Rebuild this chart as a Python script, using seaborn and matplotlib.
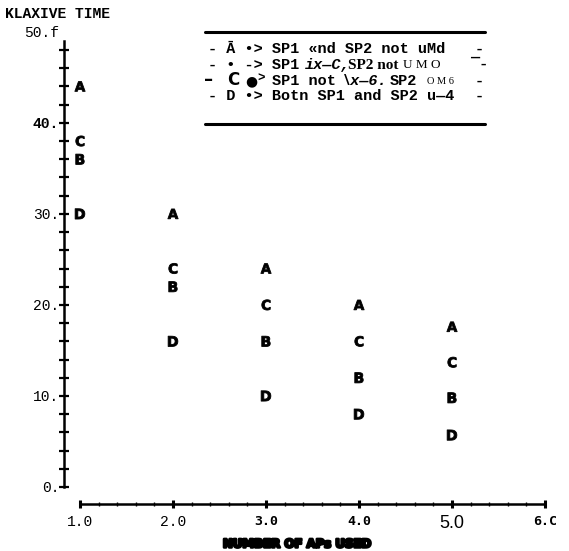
import matplotlib
matplotlib.use("Agg")
import numpy as np
import pandas as pd
import seaborn as sns
import matplotlib.pyplot as plt
import matplotlib.patheffects as pe
from matplotlib.lines import Line2D
from matplotlib.ticker import FixedLocator, MultipleLocator

# ---- data ----
aps_used = [1.0, 2.0, 3.0, 4.0, 5.0]
time_a = [44, 30, 24, 20, 17.6]   # SP1 and SP2 not used
time_b = [36, 22, 16, 12, 9.8]    # SP1 used, SP2 not used
time_c = [38, 24, 20, 16, 13.7]   # SP1 not used, SP2 used
time_d = [30, 16, 10, 8, 5.7]     # both SP1 and SP2 used
x_ticks = [1, 2, 3, 4, 5, 6]
x_tick_labels = ["1.0", "2.0", "3.0", "4.0", "5.0", "6.C"]
y_ticks = [0, 10, 20, 30, 40, 50]
y_tick_labels = ["0.", "10.", "20.", "30.", "40.", "50.f"]
title_text = "KLAXIVE TIME"
xlabel_text = "NUMBER OF APs USED"

df = pd.DataFrame({
    "aps": aps_used * 4,
    "time": time_a + time_b + time_c + time_d,
    "case": ["A"] * 5 + ["B"] * 5 + ["C"] * 5 + ["D"] * 5,
})

sns.set_theme(style="white")
plt.rcParams["font.family"] = ["Liberation Mono", "DejaVu Sans Mono", "DejaVu Sans"]

W, H = 569, 551
fig = plt.figure(figsize=(W / 100, H / 100), dpi=100)
ax = fig.add_axes([64 / W, 47 / H, 484 / W, 474 / H])

markers = {k: r"$\mathbf{%s}$" % k for k in ["A", "B", "C", "D"]}
sns.scatterplot(data=df, x="aps", y="time", style="case", markers=markers,
                color="black", s=55, linewidth=0.6, edgecolor="black",
                legend=False, ax=ax)

ax.set_xlim(0.828, 6.032)
ax.set_ylim(-1.87, 50.2)
ax.set_xlabel("")
ax.set_ylabel("")

for s in ["top", "right"]:
    ax.spines[s].set_visible(False)
ax.spines["left"].set_bounds(0, 49)
ax.spines["bottom"].set_bounds(1, 6)
for s in ["left", "bottom"]:
    ax.spines[s].set_linewidth(1.8)
    ax.spines[s].set_color("black")

ax.yaxis.set_major_locator(FixedLocator(y_ticks))
ax.yaxis.set_minor_locator(MultipleLocator(2))
ax.set_yticklabels(y_tick_labels)
ax.xaxis.set_major_locator(FixedLocator(x_ticks))
ax.xaxis.set_minor_locator(MultipleLocator(0.2))
ax.set_xticklabels(x_tick_labels)

ax.tick_params(axis="y", which="both", direction="inout", length=7, width=1.6,
               color="black", left=True, pad=0, labelsize=10.5, labelcolor="black")
ax.tick_params(axis="x", which="major", direction="inout", length=6, width=2.2,
               color="black", bottom=True, pad=5, labelsize=10.5, labelcolor="black")
ax.tick_params(axis="x", which="minor", direction="inout", length=2.5, width=1,
               color="black", bottom=True)
ax.yaxis.get_major_ticks()[-1].tick1line.set_visible(False)

for lbl in ax.get_yticklabels():
    if lbl.get_text() == "40.":
        lbl.set_fontweight("bold")

for lbl in ax.get_xticklabels():
    t = lbl.get_text()
    if t in ("3.0", "4.0", "6.C"):
        lbl.set_fontweight("bold")
        lbl.set_family(["DejaVu Sans Mono"])
        lbl.set_fontsize(9.5)
    elif t == "5.0":
        lbl.set_family(["Liberation Sans"])
        lbl.set_fontsize(13)

def put(x, y, s, **kw):
    kw.setdefault("va", "center")
    kw.setdefault("ha", "left")
    kw.setdefault("color", "black")
    return fig.text(x / W, 1 - y / H, s, **kw)

# title and x label
put(5, 14, title_text, fontsize=10.5, fontweight="bold")
put(297, 544, xlabel_text, ha="center", fontsize=8.5, fontweight="bold",
    family=["DejaVu Sans"],
    path_effects=[pe.withStroke(linewidth=1.8, foreground="black")])

# legend box (rules + text)
for yy in (32, 124):
    fig.add_artist(Line2D([205 / W, 485 / W], [1 - yy / H, 1 - yy / H],
                          color="black", lw=2.2, transform=fig.transFigure))

mono = dict(fontsize=11, fontweight="bold")
y1, y2, y3, y4 = 49, 65, 81, 96
put(208, y1, "- Ā •> SP1 «nd SP2 not uMd", **mono)
put(475, y1, "-", **mono)

put(208, y2, "- • -> SP1", **mono)
put(305, y2, "ix—C,", fontsize=11, style="italic", fontweight="bold")
put(348, y2, "SP2 not", fontsize=11, fontweight="bold", family=["Liberation Serif"])
put(403, y2, "U M O", fontsize=9.5, family=["Liberation Serif"])
put(470, y2 - 1, "¯-", **mono)

put(204, y3 - 1, "–", fontsize=13, fontweight="bold", family=["DejaVu Sans"])
put(227, y3 - 1, "C", fontsize=12, fontweight="bold", family=["DejaVu Sans"])
put(245, y3, "●", fontsize=10, family=["DejaVu Sans"])
put(257, y3 - 2, ">", fontsize=9, fontweight="bold")
put(272, y3, "SP1 not", **mono)
put(342, y3, "\\x—6.", fontsize=11, style="italic", fontweight="bold")
put(390, y3, "SP2", **mono)
put(427, y3, "O M 6", fontsize=7.5, family=["Liberation Serif"])
put(475, y3, "-", **mono)

put(208, y4, "- D •> Botn SP1 and SP2 u—4", **mono)
put(475, y4, "-", **mono)

fig.savefig("out.png", dpi=100, facecolor="white")
